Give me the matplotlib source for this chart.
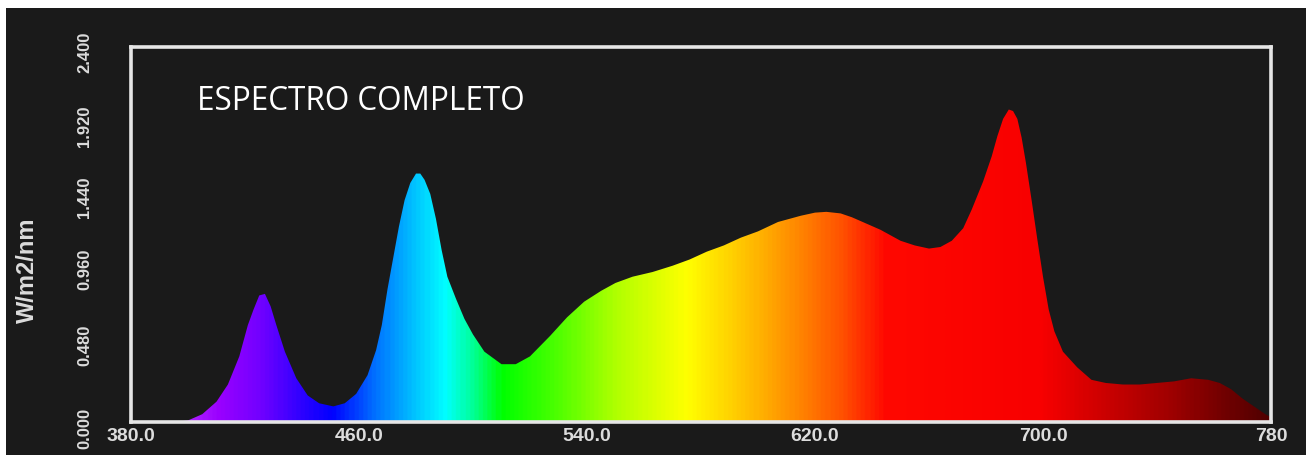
import numpy as np
import matplotlib
matplotlib.use("Agg")
import matplotlib.pyplot as plt
from matplotlib.colors import LinearSegmentedColormap
from matplotlib.patches import Rectangle
from matplotlib.transforms import ScaledTranslation

# ---- data ----
wavelength = [395, 400, 405, 410, 414, 418, 421, 423, 425, 427, 429, 431, 434, 438, 442,
              446, 451, 455, 459, 463, 466, 468, 470, 472, 474, 476, 478, 480, 481.5, 483,
              485, 487, 489, 491, 494, 497, 500, 504, 510, 515, 520, 527, 533, 539, 545,
              550, 556, 563, 570, 576, 582, 588, 594, 600, 607, 615, 620, 624, 629, 633,
              638, 643, 650, 655, 660, 664, 668, 672, 675, 679, 682, 684, 686, 688, 689.5,
              691, 692.5, 694, 696, 698, 700, 702, 704, 707, 712, 717, 722, 728, 734, 740,
              746, 752, 758, 762, 766, 770, 774, 778, 780]
irradiance = [0.00, 0.01, 0.05, 0.13, 0.24, 0.42, 0.62, 0.72, 0.81, 0.82, 0.74, 0.62, 0.45, 0.28, 0.17,
              0.12, 0.10, 0.12, 0.18, 0.30, 0.46, 0.62, 0.85, 1.05, 1.25, 1.42, 1.53, 1.59, 1.59, 1.55,
              1.46, 1.30, 1.10, 0.93, 0.79, 0.66, 0.56, 0.45, 0.37, 0.37, 0.42, 0.55, 0.67, 0.77, 0.84,
              0.89, 0.93, 0.96, 1.00, 1.04, 1.09, 1.13, 1.18, 1.22, 1.28, 1.32, 1.34, 1.345, 1.335, 1.31,
              1.27, 1.23, 1.16, 1.13, 1.11, 1.12, 1.16, 1.24, 1.36, 1.54, 1.70, 1.83, 1.94, 2.00, 1.99,
              1.94, 1.82, 1.66, 1.42, 1.17, 0.93, 0.72, 0.58, 0.45, 0.35, 0.27, 0.25, 0.24, 0.24, 0.25,
              0.26, 0.28, 0.27, 0.25, 0.21, 0.15, 0.10, 0.05, 0.03]
x_ticks = [380, 460, 540, 620, 700, 780]
x_ticklabels = ["380.0", "460.0", "540.0", "620.0", "700.0", "780"]
y_ticks = [0.0, 0.48, 0.96, 1.44, 1.92, 2.40]
y_ticklabels = ["0.000", "0.480", "0.960", "1.440", "1.920", "2.400"]
title_text = "ESPECTRO COMPLETO"
ylabel_text = "W/m2/nm"

# ---- style ----
BG = "#1a1a1a"
FG = "#dcdcdc"
spectrum_stops = [
    (380, "#b830ff"), (395, "#b830ff"), (410, "#9a00ff"), (425, "#7000ff"), (440, "#2a00ff"),
    (450, "#0000ff"), (465, "#0070ff"), (480, "#00c8ff"), (490, "#00ffff"),
    (500, "#00ff90"), (510, "#00ff00"), (530, "#50ff00"), (550, "#b0ff00"),
    (575, "#ffff00"), (595, "#ffc400"), (615, "#ff8400"), (630, "#ff5000"),
    (645, "#ff0800"), (700, "#f80000"), (720, "#d00000"), (745, "#a00000"),
    (765, "#700000"), (780, "#500000"),
]
lo, hi = 380.0, 780.0
cmap = LinearSegmentedColormap.from_list(
    "spec", [((w - lo) / (hi - lo), c) for w, c in spectrum_stops])

fig = plt.figure(figsize=(13.06, 4.61), dpi=100, facecolor="white")
W, H = 1306, 461
fig.patches.append(Rectangle((6 / W, 6 / H), 1 - 6 / W, 1 - 14 / H,
                             transform=fig.transFigure, facecolor=BG,
                             edgecolor="none", zorder=-10))

ax = fig.add_axes([131 / W, (H - 422) / H, (1271 - 131) / W, (422 - 47) / H])
ax.set_zorder(1)
ax.set_facecolor(BG)
ax.set_xlim(lo, hi)
ax.set_ylim(0, 2.4)

poly = ax.fill_between(wavelength, irradiance, 0, color="none", lw=0)
grad = np.linspace(0, 1, 800).reshape(1, -1)
im = ax.imshow(grad, cmap=cmap, aspect="auto", extent=[lo, hi, 0, 2.4],
               origin="lower", interpolation="bilinear", zorder=1)
path = poly.get_paths()[0]
im.set_clip_path(path, transform=ax.transData)

for s in ax.spines.values():
    s.set_color("#e6e6e6")
    s.set_linewidth(2.6)
    s.set_zorder(3)

ax.set_xticks(x_ticks)
ax.set_xticklabels(x_ticklabels, fontsize=14, fontweight="bold",
                   color=FG, family="Liberation Sans")
ax.set_yticks(y_ticks)
ax.set_yticklabels(y_ticklabels, fontsize=12, fontweight="bold", color=FG,
                   family="Liberation Sans", rotation=90, va="center")
ax.tick_params(length=0, pad=4)
ax.tick_params(axis="y", pad=28)

# small vertical nudges of y labels as in the reference
nudges_px = [-6, 2, 3, 0, -4, -5]
for lab, dy in zip(ax.get_yticklabels(), nudges_px):
    lab.set_transform(lab.get_transform() + ScaledTranslation(0, dy / 100, fig.dpi_scale_trans))

fig.text(27 / W, 1 - 270 / H, ylabel_text, rotation=90, ha="center", va="center",
         fontsize=17, fontweight="bold", color=FG, family="Liberation Sans")

ax.text(197 / W, 1 - 101 / H, title_text, transform=fig.transFigure,
        ha="left", va="center", fontsize=22.7, color="white", family="Open Sans")

fig.savefig("out.png", dpi=100, facecolor=fig.get_facecolor())
